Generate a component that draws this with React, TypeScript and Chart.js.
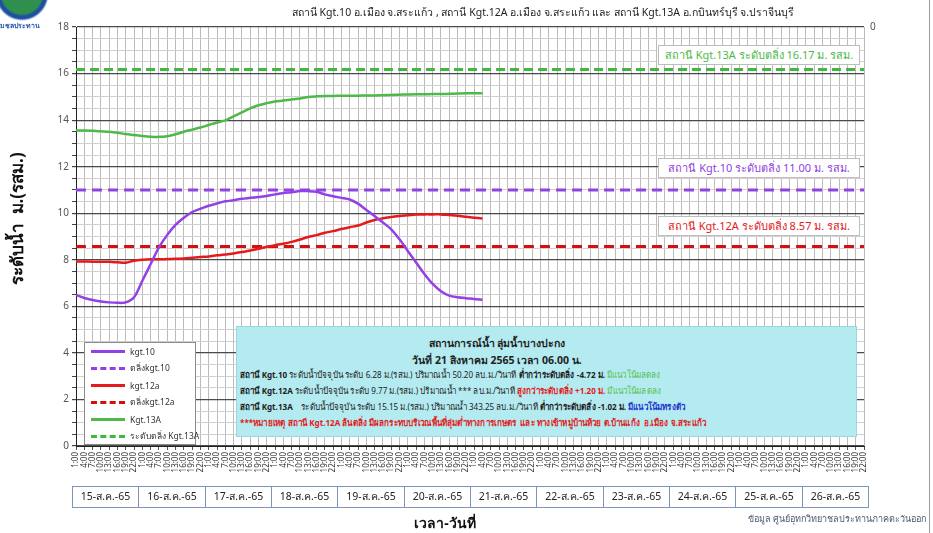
import React, { useEffect, useRef } from 'react';
import { Chart, registerables } from 'chart.js';

Chart.register(...registerables);

// ---------- data ----------
const DAYS = ['15-ส.ค.-65', '16-ส.ค.-65', '17-ส.ค.-65', '18-ส.ค.-65', '19-ส.ค.-65', '20-ส.ค.-65', '21-ส.ค.-65', '22-ส.ค.-65', '23-ส.ค.-65', '24-ส.ค.-65', '25-ส.ค.-65', '26-ส.ค.-65'];
const HOURS = ['1:00', '4:00', '7:00', '10:00', '13:00', '16:00', '19:00', '22:00'];

const KGT10 = [
  6.49, 6.36, 6.27, 6.21, 6.17, 6.15, 6.17, 6.39, 7.10, 7.82,
  8.53, 9.07, 9.50, 9.81, 10.05, 10.19, 10.32, 10.42, 10.51, 10.56,
  10.62, 10.66, 10.70, 10.74, 10.81, 10.87, 10.90, 10.95, 10.95, 10.92,
  10.81, 10.73, 10.66, 10.59, 10.41, 10.14, 9.88, 9.60, 9.31, 8.88,
  8.38, 7.88, 7.39, 6.96, 6.65, 6.46, 6.39, 6.35, 6.32, 6.28,
];
const KGT12A = [
  7.93, 7.93, 7.92, 7.92, 7.91, 7.89, 7.87, 7.96, 8.00, 8.02,
  8.02, 8.03, 8.04, 8.06, 8.09, 8.12, 8.14, 8.19, 8.23, 8.27,
  8.33, 8.40, 8.47, 8.56, 8.63, 8.69, 8.77, 8.87, 8.98, 9.06,
  9.16, 9.23, 9.32, 9.40, 9.47, 9.60, 9.71, 9.78, 9.84, 9.88,
  9.91, 9.94, 9.95, 9.95, 9.95, 9.92, 9.89, 9.85, 9.81, 9.77,
];
const KGT13A = [
  13.55, 13.55, 13.54, 13.52, 13.50, 13.46, 13.40, 13.36, 13.32, 13.29,
  13.28, 13.31, 13.39, 13.50, 13.59, 13.68, 13.79, 13.90, 13.99, 14.16,
  14.33, 14.50, 14.64, 14.73, 14.80, 14.84, 14.89, 14.93, 14.99, 15.02,
  15.04, 15.04, 15.05, 15.05, 15.05, 15.06, 15.06, 15.07, 15.08, 15.09,
  15.10, 15.11, 15.11, 15.12, 15.12, 15.13, 15.14, 15.15, 15.15, 15.15,
];
const BANK_KGT10 = 11.0;
const BANK_KGT12A = 8.57;
const BANK_KGT13A = 16.17;

const Y_MIN = 0;
const Y_MAX = 18;

const PURPLE = '#9340E6';
const RED = '#E41B1B';
const RED_DASH = '#D21010';
const GREEN = '#4EB848';
const GREEN_DASH = '#3DBA3D';

const FONT = 'Tahoma, "Noto Sans", "DejaVu Sans", sans-serif';

const LABELS = DAYS.flatMap(() => HOURS);
const level = (v: number) => LABELS.map(() => v);

const SERIES = [
  { label: 'kgt.10', color: PURPLE, dash: [] as number[], width: 2.5, data: KGT10 },
  { label: 'ตลิ่งkgt.10', color: PURPLE, dash: [10, 6], width: 3, data: level(BANK_KGT10) },
  { label: 'kgt.12a', color: RED, dash: [] as number[], width: 2.5, data: KGT12A },
  { label: 'ตลิ่งkgt.12a', color: RED_DASH, dash: [10, 6], width: 3, data: level(BANK_KGT12A) },
  { label: 'Kgt.13A', color: GREEN, dash: [] as number[], width: 2.5, data: KGT13A },
  { label: 'ระดับตลิ่ง Kgt.13A', color: GREEN_DASH, dash: [9, 5], width: 3, data: level(BANK_KGT13A) },
];

const dateBoxes = {
  id: 'dateBoxes',
  afterDraw(chart: any) {
    const xs = chart.scales.x;
    const ctx = chart.ctx;
    const step = xs.getPixelForValue(1) - xs.getPixelForValue(0);
    const top = 486;
    const h = 21;
    ctx.save();
    ctx.strokeStyle = '#7d97b8';
    ctx.lineWidth = 1;
    ctx.fillStyle = '#222';
    ctx.font = '10.5px ' + FONT;
    ctx.textAlign = 'center';
    ctx.textBaseline = 'middle';
    DAYS.forEach((d, i) => {
      const x0 = Math.round(xs.getPixelForValue(i * HOURS.length) - step / 2) + 0.5;
      const x1 = Math.round(xs.getPixelForValue(i * HOURS.length + HOURS.length - 1) + step / 2) + 0.5;
      ctx.strokeRect(x0, top + 0.5, x1 - x0, h);
      ctx.fillText(d, (x0 + x1) / 2, top + h / 2 + 1);
    });
    ctx.restore();
  },
};

function ChartCanvas() {
  const ref = useRef<HTMLCanvasElement | null>(null);
  useEffect(() => {
    if (!ref.current) return;
    const chart = new Chart(ref.current, {
      type: 'line',
      data: {
        labels: LABELS,
        datasets: SERIES.map((s) => ({
          label: s.label,
          data: s.data,
          borderColor: s.color,
          backgroundColor: s.color,
          borderWidth: s.width,
          borderDash: s.dash,
          pointRadius: 0,
          tension: 0.3,
          fill: false,
        })),
      },
      options: {
        responsive: false,
        animation: false,
        events: [],
        layout: { padding: { top: 27, left: 0, right: 0, bottom: 0 } },
        plugins: {
          legend: { display: false },
          tooltip: { enabled: false },
          title: { display: false },
        },
        scales: {
          x: {
            type: 'category',
            offset: false,
            afterFit: (s: any) => { s.height = 87; },
            grid: { color: '#bcbcbc', tickColor: '#555', tickLength: 4, lineWidth: 1 },
            border: { color: '#222', width: 1 },
            ticks: {
              autoSkip: false,
              minRotation: 90,
              maxRotation: 90,
              padding: 2,
              color: '#333',
              font: { size: 8, family: FONT },
            },
          },
          y: {
            position: 'left',
            min: Y_MIN,
            max: Y_MAX,
            afterFit: (s: any) => { s.width = 76; },
            grid: {
              color: (c: any) => (c.tick && c.tick.value % 2 === 0 ? '#4a4a4a' : '#d0d0d0'),
              lineWidth: (c: any) => (c.tick && c.tick.value % 2 === 0 ? 1.2 : 1),
              tickColor: '#444',
              tickLength: 4,
            },
            border: { color: '#222', width: 1 },
            ticks: {
              stepSize: 0.5,
              autoSkip: false,
              padding: 3,
              color: '#555',
              font: { size: 10, family: FONT },
              callback: (v: any) => (Number(v) % 2 === 0 ? String(v) : ''),
            },
            title: {
              display: true,
              text: '        ระดับน้ำ  ม.(รสม.)',
              color: '#111',
              font: { size: 17, weight: 'bold', family: FONT },
              padding: { top: 8, bottom: 0 },
            },
          },
          y2: {
            position: 'right',
            min: Y_MIN,
            max: Y_MAX,
            reverse: true,
            afterFit: (s: any) => { s.width = 69; },
            grid: { drawOnChartArea: false, drawTicks: false },
            border: { display: false },
            ticks: {
              stepSize: Y_MAX,
              padding: 6,
              color: '#555',
              font: { size: 10, family: FONT },
              callback: (v: any) => (Number(v) === 0 ? '0' : ''),
            },
          },
        },
      } as any,
      plugins: [dateBoxes],
    });
    return () => chart.destroy();
  }, []);
  return <canvas ref={ref} width={933} height={533} style={{ position: 'absolute', left: 0, top: 0, width: 933, height: 533 }} />;
}

const abs = (style: React.CSSProperties): React.CSSProperties => ({ position: 'absolute', fontFamily: FONT, whiteSpace: 'nowrap', ...style });

function Legend() {
  return (
    <div style={abs({ left: 84, top: 342, width: 112, height: 103, background: '#fff', border: '1px solid #8a8a8a', boxSizing: 'border-box' })}>
      {SERIES.map((s, i) => (
        <div key={s.label} style={abs({ left: 6, top: 1 + i * 17, height: 14, display: 'flex', alignItems: 'center' })}>
          <div style={{ width: 34, height: 0, borderTop: `3px ${s.dash.length ? 'dashed' : 'solid'} ${s.color}` }} />
          <span style={{ marginLeft: 5, fontSize: 8.5, color: '#333' }}>{s.label}</span>
        </div>
      ))}
    </div>
  );
}

function BankBox({ top, color, text }: { top: number; color: string; text: string }) {
  return (
    <div style={abs({ left: 658, top, width: 202, height: 20, background: '#fff', border: '1px solid #bdbdbd', boxSizing: 'border-box', color, fontSize: 11, lineHeight: '18px', textAlign: 'center' })}>
      {text}
    </div>
  );
}

function InfoBox() {
  const b: React.CSSProperties = { fontWeight: 'bold' };
  const line = (top: number): React.CSSProperties =>
    abs({ left: 3, top, fontSize: 9.5, color: '#222', transform: 'scaleX(0.85)', transformOrigin: 'left center' });
  return (
    <div style={abs({ left: 236, top: 326, width: 621, height: 111, background: '#b4ebf1', border: '1px solid #9dd6de', boxSizing: 'border-box' })}>
      <div style={abs({ left: 160, width: 200, top: 8, textAlign: 'center', fontSize: 10.5, fontWeight: 'bold', color: '#222' })}>สถานการณ์น้ำ ลุ่มน้ำบางปะกง</div>
      <div style={abs({ left: 160, width: 200, top: 25, textAlign: 'center', fontSize: 10.5, fontWeight: 'bold', color: '#222' })}>วันที่ 21 สิงหาคม 2565 เวลา 06.00 น.</div>
      <div style={line(40)}>
        <span style={b}>สถานี Kgt.10</span> ระดับน้ำปัจจุบัน ระดับ 6.28 ม.(รสม.) ปริมาณน้ำ 50.20 ลบ.ม./วินาที <span style={b}>ต่ำกว่าระดับตลิ่ง -4.72 ม.</span> <span style={{ color: '#55c04a' }}>มีแนวโน้มลดลง</span>
      </div>
      <div style={line(56)}>
        <span style={b}>สถานี Kgt.12A</span> ระดับน้ำปัจจุบัน ระดับ 9.77 ม.(รสม.) ปริมาณน้ำ *** ลบ.ม./วินาที <span style={{ ...b, color: '#e02020' }}>สูงกว่าระดับตลิ่ง +1.20 ม.</span> <span style={{ color: '#55c04a' }}>มีแนวโน้มลดลง</span>
      </div>
      <div style={line(72)}>
        <span style={b}>สถานี Kgt.13A</span>{'\u00a0\u00a0\u00a0\u00a0'}ระดับน้ำปัจจุบัน ระดับ 15.15 ม.(รสม.) ปริมาณน้ำ 343.25 ลบ.ม./วินาที <span style={b}>ต่ำกว่าระดับตลิ่ง -1.02 ม.</span> <span style={{ ...b, color: '#2233cc' }}>มีแนวโน้มทรงตัว</span>
      </div>
      <div style={{ ...line(88), color: '#e02020', fontWeight: 'bold' }}>
        ***หมายเหตุ สถานี Kgt.12A ล้นตลิ่ง มีผลกระทบบริเวณพื้นที่ลุ่มต่ำทางการเกษตร{'\u00a0\u00a0'}และ ทางเข้าหมู่บ้านห้วย ต.บ้านแก้ง{'\u00a0\u00a0'}อ.เมือง จ.สระแก้ว
      </div>
    </div>
  );
}

export default function App() {
  return (
    <div style={{ position: 'fixed', left: 0, top: 0, width: 933, height: 533, background: '#fff', overflow: 'hidden' }}>
      <ChartCanvas />
      {/* logo */}
      <div style={abs({ left: -6, top: -34, width: 56, height: 56, borderRadius: '50%', background: 'radial-gradient(circle, #2f8f4e 0%, #2f8f4e 50%, #1f4fa0 56%, #1f4fa0 62%, #ffffff 68%)' })} />
      <div style={abs({ left: 0, top: 20, fontSize: 7, fontWeight: 'bold', color: '#2a5aa8' })}>มชลประทาน</div>
      {/* title */}
      <div style={abs({ left: 258, top: 4, width: 570, textAlign: 'center', fontSize: 10.5, color: '#222' })}>
        สถานี Kgt.10 อ.เมือง จ.สระแก้ว , สถานี Kgt.12A  อ.เมือง  จ.สระแก้ว  และ สถานี Kgt.13A อ.กบินทร์บุรี   จ.ปราจีนบุรี
      </div>
      <BankBox top={45} color="#4db848" text="สถานี Kgt.13A  ระดับตลิ่ง 16.17 ม. รสม." />
      <BankBox top={158} color="#8f3fe0" text="สถานี Kgt.10  ระดับตลิ่ง 11.00 ม. รสม." />
      <BankBox top={216} color="#e02020" text="สถานี Kgt.12A  ระดับตลิ่ง 8.57 ม. รสม." />
      <InfoBox />
      <Legend />
      <div style={abs({ left: 395, top: 512, width: 100, textAlign: 'center', fontSize: 14, fontWeight: 'bold', color: '#111' })}>เวลา-วันที่</div>
      <div style={abs({ left: 748, top: 512, fontSize: 9, color: '#4a5a70' })}>ข้อมูล ศูนย์อุทกวิทยาชลประทานภาคตะวันออก</div>
      <div style={abs({ left: 929, top: 0, width: 1, height: 533, background: '#9a9a9a' })} />
    </div>
  );
}
